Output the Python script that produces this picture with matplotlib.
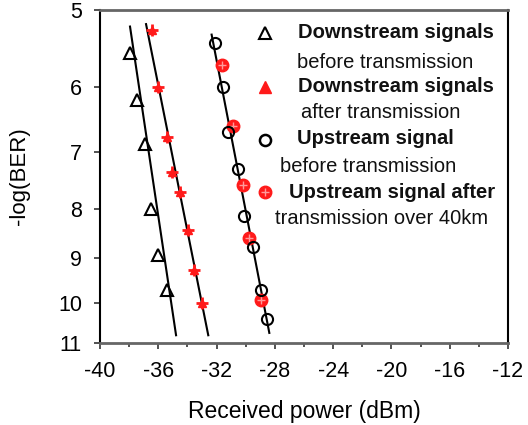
import matplotlib
matplotlib.use("Agg")
import matplotlib.pyplot as plt

plt.rcParams['font.family'] = ['Liberation Sans', 'DejaVu Sans']

# Downstream signals before transmission (open triangles)
ds_before_x = [-37.94, -37.48, -36.91, -36.50, -36.00, -35.42]
ds_before_y = [5.54, 6.19, 6.86, 8.00, 8.93, 9.70]
ds_before_fit_x = [-37.94, -34.78]
ds_before_fit_y = [5.20, 10.80]

# Downstream signals after transmission (red)
ds_after_x = [-36.46, -36.00, -35.42, -35.09, -34.51, -33.94, -33.53, -33.02]
ds_after_y = [5.24, 6.00, 6.75, 7.33, 7.69, 8.42, 9.26, 10.00]
ds_after_fit_x = [-36.84, -32.57]
ds_after_fit_y = [5.17, 10.80]

# Upstream signal before transmission (open circles)
us_before_x = [-32.11, -31.54, -31.19, -30.51, -30.12, -29.48, -28.97, -28.51]
us_before_y = [5.40, 6.00, 6.68, 7.29, 8.14, 8.76, 9.70, 10.40]
us_fit_x = [-32.34, -28.38]
us_fit_y = [5.30, 10.74]

# Upstream signal after transmission over 40 km (red circled plus)
us_after_x = [-31.65, -30.85, -30.21, -29.75, -28.97]
us_after_y = [5.70, 6.58, 7.57, 8.57, 9.93]

x_ticks = [-40, -36, -32, -28, -24, -20, -16, -12]
y_ticks = [5, 6, 7, 8, 9, 10, 11]

W, H = 528, 425
fig = plt.figure(figsize=(W / 100, H / 100), dpi=100)
ax = fig.add_axes([100 / W, (H - 343) / H, 408 / W, 333 / H])

red = '#ff1a1a'
ax.plot(ds_before_fit_x, ds_before_fit_y, color='black', lw=1.5, zorder=2)
ax.plot(ds_after_fit_x, ds_after_fit_y, color='black', lw=1.5, zorder=2)
ax.plot(us_fit_x, us_fit_y, color='black', lw=1.5, zorder=2)

ax.plot(ds_before_x, ds_before_y, ls='none', marker='^', ms=9, mfc='none',
        mec='black', mew=1.5, zorder=3)
ax.plot(ds_after_x, ds_after_y, ls='none', marker='^', ms=6, mfc=red,
        mec=red, zorder=3)
ax.plot(ds_after_x, ds_after_y, ls='none', marker='+', ms=9, mec=red,
        mew=2, zorder=3)
ax.plot(us_after_x, us_after_y, ls='none', marker='o', ms=9, mfc=red,
        mec=red, zorder=3)
ax.plot(us_after_x, us_after_y, ls='none', marker='+', ms=6, mec='#ff9a9a',
        mew=1, zorder=3)
ax.plot(us_before_x, us_before_y, ls='none', marker='o', ms=8, mfc='none',
        mec='black', mew=1.5, zorder=4)

ax.set_yscale('log')
ax.set_ylim(11, 5)
ax.set_xlim(-40, -12)
ax.set_xticks(x_ticks)
ax.set_xticks(range(-38, -12, 4), minor=True)
ax.set_xticklabels([str(v) for v in x_ticks])
ax.set_yticks(y_ticks)
ax.set_yticklabels([str(v) for v in y_ticks])
ax.yaxis.set_minor_locator(matplotlib.ticker.NullLocator())
ax.tick_params(axis='both', which='major', direction='out', length=4,
               width=1.2, labelsize=15.5, pad=9, color='#333333')
ax.tick_params(axis='x', which='minor', direction='out', length=3,
               width=1.2, color='#333333')

for side in ['left', 'right']:
    ax.spines[side].set_color('black')
    ax.spines[side].set_linewidth(1.5)
for side in ['top', 'bottom']:
    ax.spines[side].set_color('#666666')
    ax.spines[side].set_linewidth(2)

ax.set_xlabel('Received power (dBm)', fontsize=16.5, labelpad=13)
ax.set_ylabel('-log(BER)', fontsize=16, labelpad=20)

# Legend (drawn manually, no frame)
def px(x, y):
    return x / W, 1 - y / H

leg_markers = [
    dict(y=33, marker='^', ms=9, mfc='none', mec='black', mew=1.5),
    dict(y=87, marker='^', ms=8, mfc=red, mec=red, mew=1),
    dict(y=140, marker='o', ms=8, mfc='none', mec='black', mew=1.8),
    dict(y=192, marker='o', ms=9, mfc=red, mec=red, mew=1),
]
for m in leg_markers:
    yy = m.pop('y')
    fx, fy = px(265, yy)
    fig.add_artist(matplotlib.lines.Line2D([fx], [fy], transform=fig.transFigure,
                                           ls='none', **m))
fx, fy = px(265, 192)
fig.add_artist(matplotlib.lines.Line2D([fx], [fy], transform=fig.transFigure,
                                       ls='none', marker='+', ms=6,
                                       mec='#ff9a9a', mew=1))

leg_texts = [
    (298, 33, 'Downstream signals', 'bold'),
    (297, 62, 'before transmission', 'normal'),
    (298, 87, 'Downstream signals', 'bold'),
    (301, 113, 'after transmission', 'normal'),
    (297, 138, 'Upstream signal', 'bold'),
    (280, 166, 'before transmission', 'normal'),
    (289, 192, 'Upstream signal after', 'bold'),
    (275, 218, 'transmission over 40km', 'normal'),
]
for x, y, s, w in leg_texts:
    fx, fy = px(x, y)
    fig.text(fx, fy, s, fontsize=14.5, fontweight=w, ha='left', va='center',
             color='#111111')

fig.savefig('out.png', dpi=100)
